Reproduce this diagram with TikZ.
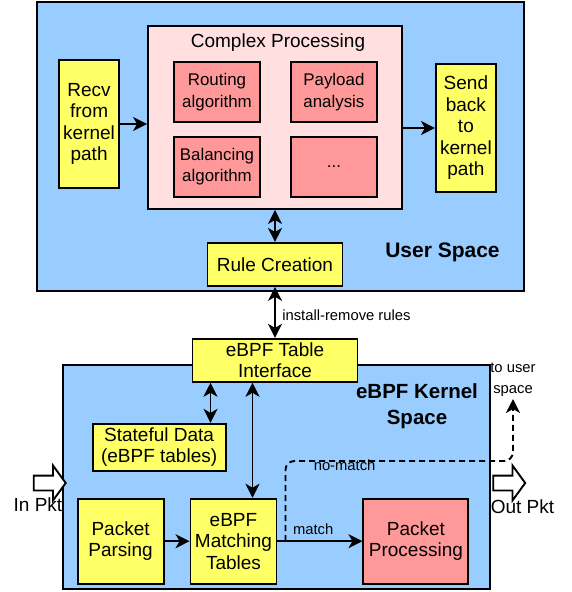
\documentclass[tikz,border=0pt]{standalone}
\usepackage{fontspec}
\setmainfont{Liberation Sans}
\usetikzlibrary{arrows.meta,positioning,shapes.arrows}
\definecolor{spaceblue}{HTML}{99CCFF}
\definecolor{boxyellow}{HTML}{FFFF66}
\definecolor{boxpink}{HTML}{FFDFDF}
\definecolor{boxred}{HTML}{FF9999}
\newcommand{\bigtxt}{\fontsize{19}{21.5}\selectfont}
\newcommand{\midtxt}{\fontsize{16.9}{21.3}\selectfont}
\newcommand{\smalltxt}{\fontsize{14.8}{21}\selectfont}
\tikzstyle{region} = [rectangle, draw, fill=spaceblue, inner sep=0pt]
\tikzstyle{yb} = [rectangle, draw, fill=boxyellow, align=center,
    inner sep=0pt, font=\bigtxt]
\tikzstyle{rb} = [rectangle, draw, fill=boxred, align=center,
    inner sep=0pt, font=\midtxt, minimum width=86pt, minimum height=60pt]
\tikzstyle{lbl} = [font=\smalltxt, align=center]
\tikzstyle{pkt} = [single arrow, draw, fill=white, inner xsep=0pt, inner ysep=6.5pt,
    minimum width=33pt, minimum height=32pt, single arrow head extend=10pt,
    single arrow tip angle=108]

\begin{document}
\begin{tikzpicture}[x=1pt,y=-1pt,>={Stealth[length=14pt,width=14pt,inset=4pt]},line width=1.9pt]
  \useasboundingbox (0,0) rectangle (571,592);

  % user space
  \node[region, minimum width=487pt, minimum height=289pt] (us) at (280.5,146.5) {};
  \node[rectangle, draw, fill=boxpink, minimum width=254pt, minimum height=183pt] (cp) at (275,117.5) {};
  \node[font=\bigtxt, anchor=north] (cptitle) at ([xshift=3pt,yshift=-4pt]cp.north) {Complex Processing};
  \node[rb, below right=36pt and 26pt of cp.north west] (route) {Routing\\algorithm};
  \node[rb, right=29pt of route] (payload) {Payload\\analysis};
  \node[rb, below=13pt of route] (balance) {Balancing\\algorithm};
  \node[rb, below=13pt of payload] (more) {...};
  \node[yb, minimum width=60pt, minimum height=128pt, left=27pt of cp, yshift=-6.5pt] (recv) {Recv\\from\\kernel\\path};
  \node[yb, minimum width=60pt, minimum height=128pt, right=32pt of cp, yshift=-10.5pt] (send) {Send\\back\\to\\kernel\\path};
  \node[yb, minimum width=135pt, minimum height=43pt, below=32pt of cp] (rule) {Rule Creation};
  \node[font=\bfseries\fontsize{21}{25}\selectfont] (uslbl) at (442.5,252) {User Space};

  % kernel space
  \node[region, minimum width=427pt, minimum height=224pt] (ks) at (276.5,477) {};
  \node[yb, minimum width=165pt, minimum height=43pt, below=51pt of rule] (tif) {eBPF Table\\Interface};
  \node[font=\bfseries\fontsize{20.5}{26}\selectfont, align=center] (kslbl) at (417,406) {eBPF Kernel\\Space};
  \node[yb, minimum width=86pt, minimum height=85pt, below=115pt of tif, xshift=-41.5pt] (mt) {eBPF\\Matching\\Tables};
  \node[yb, minimum width=86pt, minimum height=85pt, left=25pt of mt] (parse) {Packet\\Parsing};
  \node[rb, font=\bigtxt, minimum width=105pt, minimum height=85pt, right=85pt of mt] (proc) {Packet\\Processing};
  \node[yb, minimum width=133pt, minimum height=47pt, above=26pt of parse, xshift=38.5pt] (state) {Stateful Data\\(eBPF tables)};

  \node[pkt] (inpkt) at (47,483) {};
  \node[pkt] (outpkt) at (506.5,483) {};
  \node[font=\bigtxt] (inlbl) at (38,505) {In Pkt};
  \node[font=\bigtxt] (outlbl) at (522.5,507) {Out Pkt};

  \coordinate (turn) at (513,461);
  \coordinate (touser) at (513,399);

  \draw[->] (recv) -- (recv -| cp.west);
  \draw[->] (send -| cp.east) -- (send);
  \draw[<->] (rule.north) -- (rule.north |- cp.south);
  \draw[<->] (rule) -- node[lbl, right, xshift=3pt, yshift=-2.5pt] (irlbl) {install-remove rules} (tif);
  \draw[<->] ([xshift=-64.5pt]tif.south) -- ([xshift=-64.5pt]tif.south |- state.north);
  \draw[<->] ([xshift=-22.5pt]tif.south) -- ([xshift=-22.5pt]tif.south |- mt.north);
  \draw[->] (parse) -- (mt);
  \draw[->] (mt) -- node[lbl, above, pos=0.42, yshift=2pt] (mlbl) {match} (proc);
  \draw[->, dash pattern=on 6pt off 4pt, rounded corners=9pt] ([xshift=8pt]mt.east)
      |- node[lbl, below, pos=0.63, yshift=6pt] (nmlbl) {no-match} (turn) -- (touser);
  \node[lbl, above, inner sep=1pt] (tulbl) at (touser) {to user\\space};
\end{tikzpicture}
\end{document}
